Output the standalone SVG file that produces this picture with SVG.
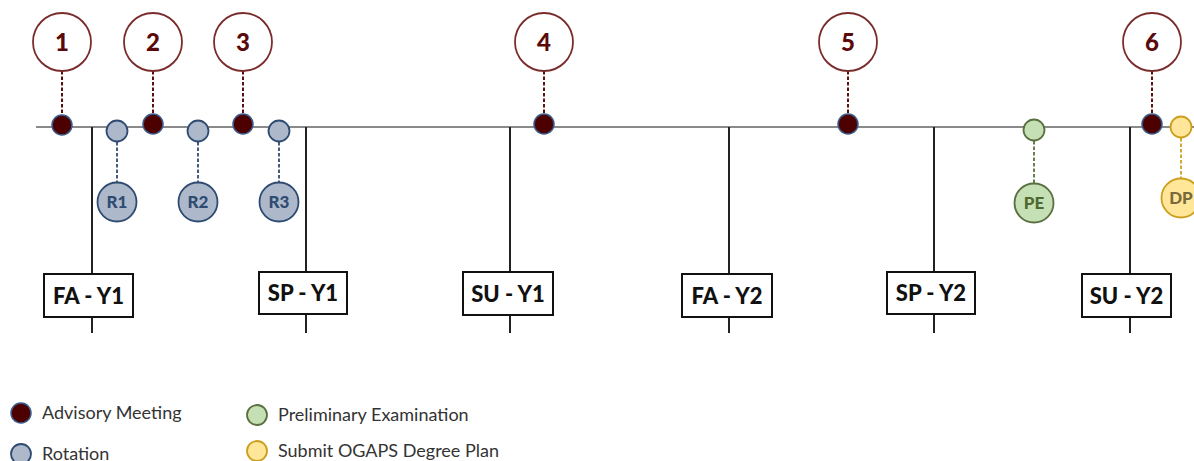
<svg xmlns="http://www.w3.org/2000/svg" width="1194" height="461" viewBox="0 0 1194 461">
<style>
text{font-family:Lato,"Open Sans","Liberation Sans",sans-serif}
.big{fill:#fff;stroke:#7a2b2b;stroke-width:1.8}
.num{fill:#5a0a0a;font-size:24px;font-weight:900;text-anchor:middle}
.dot{fill:#4d0000;stroke:#3a5a8c;stroke-width:1.5}
.dr{stroke:#5c0f0f;stroke-width:2;stroke-dasharray:3.5 2;fill:none}
.rs{fill:#adb9ca;stroke:#2f4b72;stroke-width:1.8}
.rl{stroke:#2f4b72;stroke-width:1.8;stroke-dasharray:3.5 2;fill:none}
.rt{fill:#2f4b72;font-size:17px;font-weight:900;text-anchor:middle}
.pe{fill:#c5e0b4;stroke:#5a7040;stroke-width:1.8}
.pl{stroke:#5a7040;stroke-width:1.8;stroke-dasharray:3.5 2;fill:none}
.dp{fill:#ffe699;stroke:#cc9f1f;stroke-width:1.8}
.dl{stroke:#cc9f1f;stroke-width:1.8;stroke-dasharray:3.5 2;fill:none}
.sl{stroke:#222;stroke-width:2;fill:none}
.box{fill:#fff;stroke:#111;stroke-width:2}
.bt{fill:#111;font-size:22px;font-weight:900;text-anchor:middle}
.lg{fill:#333;font-size:18px}
</style>
<g id="connectors">
<line x1="36" y1="127" x2="1194" y2="127" stroke="#8a8a8a" stroke-width="2"/>
<path class="sl" d="M92 127V274M92 317V333M306 127V272M306 314V333M510 127V272M510 315V333M729 127V274M729 317V333M934 127V272M934 314V333M1130 127V274M1130 318V333"/>
<path class="dr" d="M62 71V114M153 71V114M243 71V114M544 71V114M848 71V114M1152 71V114"/>
<path class="rl" d="M117 131V183M198 131V183M279 131V183"/>
<path class="pl" d="M1034 130V183"/>
<path class="dl" d="M1181 127V178"/>
</g>
<g id="m1"><circle class="big" cx="62" cy="42" r="29"/><text class="num" x="62" y="51">1</text><circle class="dot" cx="62" cy="125" r="10"/></g>
<g id="m2"><circle class="big" cx="153" cy="42" r="29"/><text class="num" x="153" y="51">2</text><circle class="dot" cx="153" cy="124" r="10"/></g>
<g id="m3"><circle class="big" cx="243" cy="42" r="29"/><text class="num" x="243" y="51">3</text><circle class="dot" cx="243" cy="124" r="10"/></g>
<g id="m4"><circle class="big" cx="544" cy="42" r="29"/><text class="num" x="544" y="51">4</text><circle class="dot" cx="544" cy="124" r="10"/></g>
<g id="m5"><circle class="big" cx="848" cy="42" r="29"/><text class="num" x="848" y="51">5</text><circle class="dot" cx="848" cy="124" r="10"/></g>
<g id="m6"><circle class="big" cx="1152" cy="42" r="29"/><text class="num" x="1152" y="51">6</text><circle class="dot" cx="1152" cy="124" r="10"/></g>
<g id="r1"><circle class="rs" cx="117" cy="131" r="10.5"/><circle class="rs" cx="117" cy="202" r="19.5"/><text class="rt" x="117" y="208">R1</text></g>
<g id="r2"><circle class="rs" cx="198" cy="131" r="10.5"/><circle class="rs" cx="198" cy="202" r="19.5"/><text class="rt" x="198" y="208">R2</text></g>
<g id="r3"><circle class="rs" cx="279" cy="131" r="10.5"/><circle class="rs" cx="279" cy="202" r="19.5"/><text class="rt" x="279" y="208">R3</text></g>
<g id="pe"><circle class="pe" cx="1034" cy="130" r="10.5"/><circle class="pe" cx="1034" cy="203" r="19.5"/><text class="rt" x="1034" y="209" style="fill:#4e6a32">PE</text></g>
<g id="dp"><circle class="dp" cx="1181" cy="127" r="10.5"/><circle class="dp" cx="1181" cy="198" r="19.5"/><text class="rt" x="1181" y="204" style="fill:#7a6a3a">DP</text></g>
<g id="fa1"><rect class="box" x="44" y="274" width="89" height="43"/><text class="bt" x="88.5" y="303.5">FA - Y1</text></g>
<g id="sp1"><rect class="box" x="259" y="272" width="88" height="42"/><text class="bt" x="303" y="301">SP - Y1</text></g>
<g id="su1"><rect class="box" x="463" y="272" width="90" height="43"/><text class="bt" x="508" y="301.5">SU - Y1</text></g>
<g id="fa2"><rect class="box" x="682" y="274" width="90" height="43"/><text class="bt" x="727" y="303.5">FA - Y2</text></g>
<g id="sp2"><rect class="box" x="887" y="272" width="88" height="42"/><text class="bt" x="931" y="301">SP - Y2</text></g>
<g id="su2"><rect class="box" x="1082" y="274" width="89" height="43"/><text class="bt" x="1126.5" y="303.5">SU - Y2</text></g>
<g id="legend">
<circle class="dot" cx="21" cy="413" r="10"/><text class="lg" x="42" y="419">Advisory Meeting</text>
<circle class="rs" cx="21" cy="454" r="10"/><text class="lg" x="42" y="460">Rotation</text>
<circle class="pe" cx="257" cy="415" r="10"/><text class="lg" x="278" y="421">Preliminary Examination</text>
<circle class="dp" cx="257" cy="451" r="10"/><text class="lg" x="278" y="457">Submit OGAPS Degree Plan</text>
</g>
</svg>
